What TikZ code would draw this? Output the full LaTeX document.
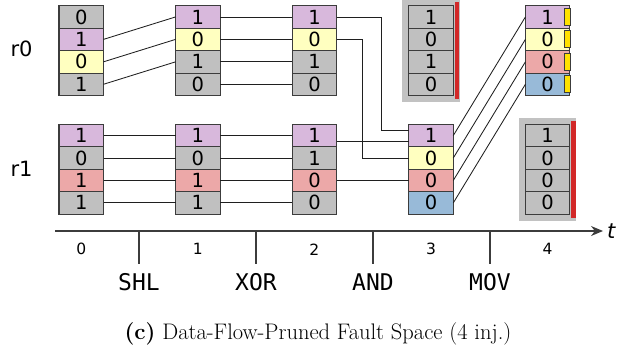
\documentclass[tikz,border=0pt]{standalone}
\usepackage{fontspec}
\newfontfamily\dvs{DejaVu Sans}
\newfontfamily\monof{DejaVu Sans Mono}
\usetikzlibrary{arrows.meta,backgrounds}
\definecolor{cgray}{RGB}{192,192,192}
\definecolor{cpurp}{RGB}{216,184,220}
\definecolor{cyel}{RGB}{255,255,192}
\definecolor{cpink}{RGB}{236,168,168}
\definecolor{cblue}{RGB}{152,186,216}
\definecolor{cbg}{RGB}{194,194,194}
\definecolor{cred}{RGB}{210,40,40}
\definecolor{cmark}{RGB}{255,225,0}
\definecolor{cborder}{RGB}{60,60,60}
\definecolor{caxis}{RGB}{60,60,60}
\newcommand\regcol[4]{%
  \foreach \v/\c [count=\i from 0] in {#4} {
    \node[cell, fill=\c] (#1-\i) at (#2, {#3+\i*22.45}) {\v};
  }}
\begin{document}
\begin{tikzpicture}[x=1pt,y=-1pt,
  cell/.style={draw=cborder, line width=1.1pt, minimum width=44.5pt, minimum height=22.45pt,
    inner sep=0pt, outer sep=0pt, anchor=north west, font=\dvs\fontsize{19.5}{19.5}\selectfont},
  wire/.style={line width=0.85pt, draw=black!88},
  axisline/.style={line width=1.1pt, draw=caxis},
  ticknum/.style={font=\dvs\fontsize{15.5}{15.5}\selectfont},
  instr/.style={font=\monof\fontsize{23}{23}\selectfont},
  reglab/.style={font=\dvs\fontsize{21}{21}\selectfont},
  marker/.style={fill=cmark, draw=cborder, line width=0.8pt}]
\useasboundingbox (0,0) rectangle (626,349);
% register labels
\node[reglab] (lr0) at (21.5,49) {r0};
\node[reglab] (lr1) at (21.5,168.5) {r1};
% columns
\regcol{c0a}{59}{5.7}{0/cgray,1/cpurp,0/cyel,1/cgray}
\regcol{c1a}{175.6}{5.7}{1/cpurp,0/cyel,1/cgray,0/cgray}
\regcol{c2a}{292.2}{5.7}{1/cpurp,0/cyel,1/cgray,0/cgray}
\regcol{c3a}{408.8}{5.7}{1/cgray,0/cgray,1/cgray,0/cgray}
\regcol{c4a}{525.4}{5.7}{1/cpurp,0/cyel,0/cpink,0/cblue}
\regcol{c0b}{59}{124.3}{1/cpurp,0/cgray,1/cpink,1/cgray}
\regcol{c1b}{175.6}{124.3}{1/cpurp,0/cgray,1/cpink,1/cgray}
\regcol{c2b}{292.2}{124.3}{1/cpurp,1/cgray,0/cpink,0/cgray}
\regcol{c3b}{408.8}{124.3}{1/cpurp,0/cyel,0/cpink,0/cblue}
\regcol{c4b}{525.4}{124.3}{1/cgray,0/cgray,0/cgray,0/cgray}
% pruned backgrounds
\begin{scope}[on background layer]
  \fill[cbg] ([shift={(-6.5pt,6pt)}]c3a-0.north west) rectangle ([shift={(6.5pt,-6pt)}]c3a-3.south east);
  \fill[cbg] ([shift={(-6.5pt,6pt)}]c4b-0.north west) rectangle ([shift={(6.5pt,-6.5pt)}]c4b-3.south east);
\end{scope}
\fill[cred] ([shift={(1.5pt,3.5pt)}]c3a-0.north east) rectangle ([shift={(6pt,-3.5pt)}]c3a-3.south east);
\fill[cred] ([shift={(1.5pt,3.5pt)}]c4b-0.north east) rectangle ([shift={(6pt,-3.5pt)}]c4b-3.south east);
% markers
\foreach \i in {0,...,3}
  \draw[marker] ([shift={(-5.3pt,8.5pt)}]c4a-\i.east) rectangle ([yshift=-8.5pt]c4a-\i.east);
% SHL
\foreach \i/\j in {1/0,2/1,3/2}
  \draw[wire] (c0a-\i.east) -- (c1a-\j.west);
% straight copies
\foreach \i in {0,...,3} {
  \draw[wire] (c0b-\i.east) -- (c1b-\i.west);
  \draw[wire] (c1a-\i.east) -- (c2a-\i.west);
  \draw[wire] (c1b-\i.east) -- (c2b-\i.west);
}
% AND
\draw[wire] (c2a-0.east) -| ([shift={(-27pt,5.5pt)}]c3b-0.west) -- ([yshift=5.5pt]c3b-0.west);
\draw[wire] (c2a-1.east) -| ([xshift=-46.5pt]c3b-1.west) -- (c3b-1.west);
\draw[wire] ([yshift=-5.5pt]c2b-0.east) -- ([yshift=-5.5pt]c3b-0.west);
\draw[wire] (c2b-2.east) -- (c3b-2.west);
% MOV
\foreach \i in {0,...,3}
  \draw[wire] (c3b-\i.east) -- (c4a-\i.west);
% time axis
\coordinate (ax0) at (55,231);
\coordinate (ax1) at (603,231);
\draw[axisline, -{Stealth[length=12pt,width=10pt]}] (ax0) -- (ax1);
\node[anchor=west, inner sep=4pt, font=\dvs\itshape\fontsize{21}{21}\selectfont] (tlab) at (ax1) {t};
\foreach \x/\ins in {139/SHL,256/XOR,373/AND,490/MOV} {
  \coordinate (tk\ins) at (\x,231);
  \draw[axisline] (tk\ins) -- ++(0,33);
  \node[instr] (in\ins) at (\x,282) {\ins};
}
\foreach \k/\x in {0/81.3,1/197.8,2/314.4,3/431,4/547.6}
  \node[ticknum] (n\k) at (\x,249.3) {\k};
% caption
\node[anchor=base, font=\rmfamily\fontsize{22.5}{22.5}\selectfont] (cap) at (318,339) {\textbf{(c)} Data-Flow-Pruned Fault Space (4 inj.)};
\end{tikzpicture}
\end{document}
